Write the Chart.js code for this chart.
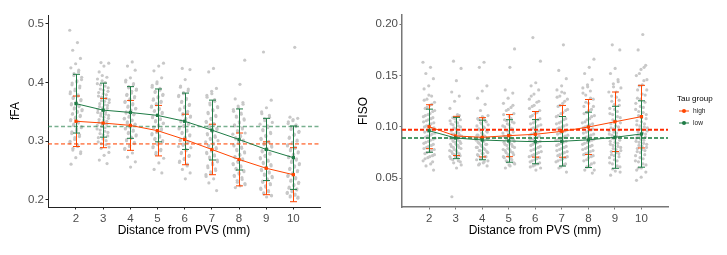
<!DOCTYPE html>
<html>
<head>
<meta charset="utf-8">
<script src="https://cdn.jsdelivr.net/npm/chart.js@4.4.0/dist/chart.umd.min.js"></script>
<style>
  html, body { margin: 0; padding: 0; background: #fff; }
  #wrap { position: relative; width: 727px; height: 255px; overflow: hidden; }
  #fa { position: absolute; left: 0; top: 0; }
  #iso { position: absolute; left: 330px; top: 0; }
</style>
</head>
<body>
<div id="wrap">
  <canvas id="fa" width="330" height="255"></canvas>
  <canvas id="iso" width="397" height="255"></canvas>
</div>
<script>
// ---- data ----
const distances = [2, 3, 4, 5, 6, 7, 8, 9, 10];
const xTickLabels = ['2', '3', '4', '5', '6', '7', '8', '9', '10'];
const faTicks = [0.2, 0.3, 0.4, 0.5];
const faTickLabels = ['0.2', '0.3', '0.4', '0.5'];
const isoTicks = [0.05, 0.10, 0.15, 0.20];
const isoTickLabels = ['0.05', '0.10', '0.15', '0.20'];

// group means and SD per distance
const faHighMean = [0.334, 0.331, 0.327, 0.318, 0.303, 0.286, 0.269, 0.254, 0.243];
const faHighSd   = [0.043, 0.042, 0.0425, 0.043, 0.043, 0.043, 0.045, 0.045, 0.046];
const faLowMean  = [0.364, 0.353, 0.349, 0.344, 0.334, 0.319, 0.303, 0.286, 0.272];
const faLowSd    = [0.050, 0.046, 0.044, 0.045, 0.048, 0.051, 0.052, 0.053, 0.054];
const faHighOverall = 0.2955;
const faLowOverall = 0.325;

const isoHighMean = [0.1002, 0.0912, 0.0899, 0.0915, 0.0928, 0.0957, 0.0999, 0.105, 0.110];
const isoHighSd   = [0.0214, 0.0191, 0.0191, 0.0205, 0.0222, 0.0252, 0.0268, 0.029, 0.0305];
const isoLowMean  = [0.0963, 0.0892, 0.0873, 0.0863, 0.0856, 0.086, 0.0874, 0.0899, 0.0931];
const isoLowSd    = [0.021, 0.0201, 0.0193, 0.0207, 0.0215, 0.0241, 0.027, 0.0302, 0.0323];
const isoHighOverall = 0.0973;
const isoLowOverall = 0.0892;

// individual values, one list per distance (2..10)
const faRaw = [
  [0.489, 0.468, 0.455, 0.441, 0.432, 0.425, 0.418, 0.412, 0.405, 0.401, 0.396, 0.391, 0.386, 0.381, 0.377, 0.373, 0.369, 0.366, 0.362, 0.359, 0.355, 0.352, 0.349, 0.346, 0.342, 0.339, 0.335, 0.331, 0.327, 0.323, 0.318, 0.313, 0.308, 0.303, 0.297, 0.291, 0.285, 0.279, 0.272, 0.261,
   0.421, 0.415, 0.409, 0.403, 0.399, 0.394, 0.389, 0.384, 0.379, 0.375, 0.371, 0.367, 0.364, 0.361, 0.357, 0.354, 0.351, 0.347, 0.344, 0.341, 0.337, 0.333, 0.329, 0.325, 0.321, 0.316, 0.311, 0.306, 0.300, 0.294, 0.288, 0.282],
  [0.434, 0.433, 0.428, 0.418, 0.409, 0.403, 0.398, 0.394, 0.389, 0.385, 0.381, 0.377, 0.373, 0.369, 0.366, 0.362, 0.359, 0.356, 0.352, 0.349, 0.346, 0.343, 0.339, 0.336, 0.332, 0.329, 0.325, 0.321, 0.317, 0.313, 0.309, 0.304, 0.299, 0.294, 0.288, 0.281, 0.276, 0.268, 0.262,
   0.412, 0.406, 0.400, 0.396, 0.391, 0.387, 0.383, 0.379, 0.375, 0.371, 0.368, 0.364, 0.361, 0.357, 0.354, 0.350, 0.347, 0.344, 0.341, 0.337, 0.334, 0.330, 0.327, 0.323, 0.319, 0.315, 0.311, 0.306, 0.301, 0.296, 0.290],
  [0.435, 0.428, 0.421, 0.408, 0.401, 0.396, 0.391, 0.387, 0.382, 0.378, 0.374, 0.370, 0.366, 0.362, 0.358, 0.355, 0.351, 0.348, 0.345, 0.341, 0.338, 0.335, 0.331, 0.328, 0.324, 0.321, 0.317, 0.313, 0.309, 0.305, 0.301, 0.296, 0.291, 0.286, 0.280, 0.273, 0.265, 0.256,
   0.404, 0.398, 0.393, 0.389, 0.385, 0.380, 0.376, 0.372, 0.368, 0.364, 0.360, 0.356, 0.353, 0.350, 0.346, 0.343, 0.339, 0.336, 0.333, 0.329, 0.326, 0.322, 0.319, 0.315, 0.311, 0.307, 0.303, 0.298, 0.293, 0.288],
  [0.433, 0.428, 0.420, 0.408, 0.398, 0.392, 0.387, 0.383, 0.378, 0.374, 0.370, 0.366, 0.362, 0.358, 0.354, 0.351, 0.347, 0.344, 0.340, 0.337, 0.333, 0.330, 0.326, 0.323, 0.319, 0.315, 0.311, 0.307, 0.303, 0.299, 0.294, 0.289, 0.284, 0.278, 0.271, 0.263, 0.252, 0.246,
   0.401, 0.395, 0.390, 0.385, 0.380, 0.376, 0.372, 0.368, 0.364, 0.360, 0.356, 0.352, 0.349, 0.345, 0.342, 0.338, 0.335, 0.331, 0.328, 0.324, 0.321, 0.317, 0.313, 0.309, 0.305, 0.301, 0.296, 0.291, 0.286, 0.281],
  [0.424, 0.422, 0.405, 0.392, 0.386, 0.381, 0.376, 0.371, 0.366, 0.361, 0.357, 0.353, 0.349, 0.345, 0.341, 0.337, 0.333, 0.329, 0.325, 0.321, 0.317, 0.313, 0.309, 0.305, 0.301, 0.297, 0.293, 0.289, 0.284, 0.279, 0.274, 0.269, 0.264, 0.258, 0.252, 0.246, 0.236,
   0.394, 0.389, 0.383, 0.378, 0.373, 0.368, 0.363, 0.359, 0.355, 0.351, 0.347, 0.343, 0.339, 0.335, 0.331, 0.327, 0.323, 0.319, 0.315, 0.311, 0.307, 0.303, 0.299, 0.295, 0.291, 0.286, 0.281, 0.276, 0.271, 0.266, 0.261],
  [0.424, 0.418, 0.390, 0.385, 0.378, 0.371, 0.365, 0.359, 0.354, 0.349, 0.344, 0.339, 0.334, 0.330, 0.326, 0.322, 0.318, 0.313, 0.309, 0.305, 0.301, 0.297, 0.293, 0.289, 0.285, 0.281, 0.277, 0.273, 0.268, 0.263, 0.258, 0.253, 0.248, 0.243, 0.236, 0.229, 0.216,
   0.381, 0.375, 0.368, 0.362, 0.357, 0.352, 0.347, 0.342, 0.337, 0.332, 0.328, 0.324, 0.320, 0.316, 0.311, 0.307, 0.303, 0.299, 0.295, 0.291, 0.287, 0.283, 0.279, 0.275, 0.270, 0.265, 0.260, 0.255, 0.250, 0.245, 0.240],
  [0.438, 0.397, 0.372, 0.366, 0.360, 0.354, 0.348, 0.343, 0.338, 0.333, 0.328, 0.323, 0.318, 0.314, 0.310, 0.306, 0.302, 0.298, 0.294, 0.290, 0.286, 0.282, 0.278, 0.274, 0.270, 0.266, 0.262, 0.258, 0.254, 0.250, 0.246, 0.242, 0.238, 0.233, 0.228, 0.224, 0.221,
   0.363, 0.357, 0.351, 0.346, 0.341, 0.336, 0.331, 0.326, 0.321, 0.316, 0.312, 0.308, 0.304, 0.300, 0.296, 0.292, 0.288, 0.284, 0.280, 0.276, 0.272, 0.268, 0.264, 0.260, 0.256, 0.252, 0.248, 0.244, 0.240, 0.235, 0.230, 0.226],
  [0.452, 0.370, 0.357, 0.350, 0.344, 0.338, 0.332, 0.326, 0.320, 0.315, 0.310, 0.305, 0.300, 0.296, 0.292, 0.288, 0.284, 0.280, 0.276, 0.272, 0.268, 0.264, 0.260, 0.256, 0.252, 0.248, 0.244, 0.240, 0.236, 0.232, 0.228, 0.224, 0.220, 0.216, 0.212, 0.208, 0.205,
   0.347, 0.341, 0.335, 0.329, 0.323, 0.318, 0.313, 0.308, 0.303, 0.298, 0.294, 0.290, 0.286, 0.282, 0.278, 0.274, 0.270, 0.266, 0.262, 0.258, 0.254, 0.250, 0.246, 0.242, 0.238, 0.234, 0.230, 0.226, 0.222, 0.218, 0.214, 0.210, 0.207],
  [0.460, 0.341, 0.339, 0.335, 0.330, 0.325, 0.320, 0.315, 0.310, 0.305, 0.300, 0.296, 0.292, 0.288, 0.284, 0.280, 0.276, 0.272, 0.268, 0.264, 0.260, 0.256, 0.252, 0.248, 0.244, 0.240, 0.236, 0.232, 0.228, 0.224, 0.220, 0.217, 0.214, 0.211, 0.208, 0.205, 0.203,
   0.337, 0.333, 0.328, 0.322, 0.317, 0.312, 0.307, 0.302, 0.298, 0.294, 0.290, 0.286, 0.282, 0.278, 0.274, 0.270, 0.266, 0.262, 0.258, 0.254, 0.250, 0.246, 0.242, 0.238, 0.234, 0.230, 0.226, 0.222, 0.219, 0.216, 0.213, 0.210, 0.207, 0.205]
];
const isoRaw = [
  [0.163, 0.158, 0.152, 0.147, 0.140, 0.137, 0.130, 0.127, 0.124, 0.121, 0.118, 0.115, 0.112, 0.110, 0.108, 0.106, 0.104, 0.102, 0.100, 0.098, 0.096, 0.094, 0.092, 0.090, 0.088, 0.086, 0.084, 0.082, 0.080, 0.078, 0.076, 0.074, 0.072, 0.070, 0.067, 0.064, 0.062, 0.058,
   0.131, 0.126, 0.122, 0.119, 0.116, 0.113, 0.111, 0.109, 0.107, 0.105, 0.103, 0.101, 0.099, 0.097, 0.095, 0.093, 0.091, 0.089, 0.087, 0.085, 0.083, 0.081, 0.079, 0.077, 0.075, 0.073, 0.071, 0.069, 0.066],
  [0.164, 0.157, 0.145, 0.134, 0.130, 0.125, 0.118, 0.112, 0.109, 0.107, 0.105, 0.103, 0.101, 0.099, 0.097, 0.095, 0.093, 0.092, 0.090, 0.089, 0.087, 0.086, 0.084, 0.083, 0.081, 0.080, 0.078, 0.077, 0.075, 0.074, 0.072, 0.071, 0.069, 0.067, 0.065, 0.063, 0.060, 0.032,
   0.111, 0.108, 0.106, 0.104, 0.102, 0.100, 0.098, 0.096, 0.094, 0.093, 0.091, 0.089, 0.088, 0.086, 0.085, 0.083, 0.082, 0.080, 0.079, 0.077, 0.076, 0.074, 0.073, 0.071, 0.070, 0.068, 0.066],
  [0.163, 0.158, 0.140, 0.135, 0.128, 0.122, 0.116, 0.111, 0.109, 0.107, 0.105, 0.103, 0.101, 0.099, 0.097, 0.095, 0.093, 0.092, 0.090, 0.089, 0.087, 0.086, 0.084, 0.083, 0.081, 0.080, 0.078, 0.077, 0.075, 0.074, 0.072, 0.071, 0.069, 0.068, 0.066, 0.064, 0.062,
   0.110, 0.108, 0.106, 0.104, 0.102, 0.100, 0.098, 0.096, 0.094, 0.092, 0.091, 0.089, 0.088, 0.086, 0.085, 0.083, 0.082, 0.080, 0.079, 0.077, 0.076, 0.074, 0.073, 0.071, 0.069, 0.067, 0.065, 0.063],
  [0.176, 0.158, 0.136, 0.133, 0.128, 0.123, 0.119, 0.116, 0.113, 0.110, 0.107, 0.105, 0.103, 0.101, 0.099, 0.097, 0.095, 0.093, 0.091, 0.089, 0.088, 0.086, 0.084, 0.083, 0.081, 0.079, 0.078, 0.076, 0.075, 0.073, 0.071, 0.070, 0.068, 0.066, 0.064, 0.062, 0.060,
   0.121, 0.117, 0.112, 0.108, 0.106, 0.104, 0.102, 0.100, 0.098, 0.096, 0.094, 0.092, 0.090, 0.088, 0.087, 0.085, 0.083, 0.082, 0.080, 0.078, 0.077, 0.075, 0.073, 0.071, 0.069, 0.067, 0.065, 0.063],
  [0.187, 0.164, 0.143, 0.140, 0.136, 0.132, 0.127, 0.124, 0.120, 0.116, 0.113, 0.110, 0.107, 0.104, 0.102, 0.100, 0.098, 0.096, 0.094, 0.092, 0.090, 0.088, 0.086, 0.084, 0.082, 0.080, 0.078, 0.076, 0.074, 0.072, 0.070, 0.068, 0.066, 0.064, 0.062, 0.060, 0.058,
   0.130, 0.125, 0.121, 0.118, 0.114, 0.111, 0.108, 0.105, 0.103, 0.101, 0.099, 0.097, 0.095, 0.093, 0.091, 0.089, 0.087, 0.085, 0.083, 0.081, 0.079, 0.077, 0.075, 0.073, 0.071, 0.069, 0.067, 0.065, 0.063, 0.061],
  [0.180, 0.155, 0.147, 0.140, 0.136, 0.133, 0.130, 0.127, 0.123, 0.120, 0.116, 0.113, 0.110, 0.107, 0.104, 0.102, 0.100, 0.098, 0.096, 0.094, 0.092, 0.090, 0.088, 0.086, 0.084, 0.082, 0.080, 0.078, 0.076, 0.074, 0.072, 0.070, 0.068, 0.066, 0.063, 0.060, 0.056,
   0.134, 0.129, 0.125, 0.121, 0.117, 0.114, 0.111, 0.108, 0.105, 0.103, 0.101, 0.099, 0.097, 0.095, 0.093, 0.091, 0.089, 0.087, 0.085, 0.083, 0.081, 0.079, 0.077, 0.075, 0.073, 0.071, 0.069, 0.067, 0.064, 0.061],
  [0.166, 0.158, 0.152, 0.146, 0.141, 0.138, 0.135, 0.131, 0.127, 0.123, 0.120, 0.117, 0.114, 0.111, 0.108, 0.105, 0.103, 0.101, 0.099, 0.097, 0.095, 0.093, 0.091, 0.089, 0.087, 0.085, 0.083, 0.081, 0.079, 0.077, 0.075, 0.073, 0.071, 0.068, 0.065, 0.062, 0.058, 0.055,
   0.139, 0.133, 0.128, 0.124, 0.120, 0.116, 0.113, 0.110, 0.107, 0.104, 0.102, 0.100, 0.098, 0.096, 0.094, 0.092, 0.090, 0.088, 0.086, 0.084, 0.082, 0.080, 0.078, 0.076, 0.074, 0.072, 0.070, 0.067, 0.064, 0.061, 0.058],
  [0.180, 0.175, 0.157, 0.152, 0.146, 0.142, 0.138, 0.134, 0.130, 0.126, 0.122, 0.118, 0.115, 0.112, 0.109, 0.106, 0.103, 0.100, 0.098, 0.096, 0.094, 0.092, 0.090, 0.088, 0.086, 0.084, 0.082, 0.080, 0.078, 0.076, 0.074, 0.072, 0.070, 0.067, 0.064, 0.061, 0.057, 0.053,
   0.144, 0.139, 0.134, 0.129, 0.125, 0.121, 0.117, 0.113, 0.110, 0.107, 0.104, 0.101, 0.099, 0.097, 0.095, 0.093, 0.091, 0.089, 0.087, 0.085, 0.083, 0.081, 0.079, 0.077, 0.075, 0.073, 0.071, 0.068, 0.065, 0.062, 0.059, 0.056],
  [0.190, 0.175, 0.160, 0.156, 0.150, 0.145, 0.140, 0.136, 0.132, 0.128, 0.124, 0.120, 0.117, 0.114, 0.111, 0.108, 0.105, 0.102, 0.100, 0.098, 0.096, 0.094, 0.092, 0.090, 0.088, 0.086, 0.084, 0.082, 0.080, 0.078, 0.076, 0.073, 0.070, 0.067, 0.064, 0.060, 0.056, 0.051, 0.048,
   0.158, 0.152, 0.146, 0.141, 0.136, 0.131, 0.127, 0.123, 0.119, 0.115, 0.112, 0.109, 0.106, 0.103, 0.101, 0.099, 0.097, 0.095, 0.093, 0.091, 0.089, 0.087, 0.085, 0.083, 0.081, 0.079, 0.077, 0.075, 0.072, 0.069, 0.066, 0.063, 0.060, 0.058]
];

// ---- styles ----
const HIGH = '#ff4500';
const LOW = '#1e7b45';
const FONT = '"Liberation Sans", Arial, sans-serif';

// spread points sideways inside each distance column (like geom_jitter width)
function spread(i) {
  return ((i * 0.618034) % 1 - 0.5) * 0.46;
}

function rawPoints(raw) {
  const pts = [];
  raw.forEach((vals, c) => {
    vals.forEach((v, i) => pts.push({ x: distances[c] + spread(i + c * 7), y: v }));
  });
  return pts;
}

function meanPoints(means) {
  return distances.map((d, i) => ({ x: d, y: means[i] }));
}

// error bars + overall dashed lines, drawn right after the grey points
const errorBars = {
  id: 'errorBars',
  afterDatasetDraw(chart, args, opts) {
    if (args.index !== chart.data.datasets.length - 1) return;
    const { ctx, chartArea, scales: { x, y } } = chart;
    ctx.save();
    ctx.lineWidth = 1;
    opts.groups.forEach(g => {
      ctx.strokeStyle = g.color;
      g.mean.forEach((m, i) => {
        const px = Math.round(x.getPixelForValue(distances[i])) + 0.5;
        const top = y.getPixelForValue(m + g.sd[i]);
        const bot = y.getPixelForValue(m - g.sd[i]);
        ctx.beginPath();
        ctx.moveTo(px, top); ctx.lineTo(px, bot);
        ctx.moveTo(px - 3.5, top); ctx.lineTo(px + 3.5, top);
        ctx.moveTo(px - 3.5, bot); ctx.lineTo(px + 3.5, bot);
        ctx.stroke();
      });
    });
    opts.refs.forEach(r => {
      const py = y.getPixelForValue(r.value);
      ctx.strokeStyle = r.color;
      ctx.lineWidth = r.width;
      ctx.setLineDash(r.dash);
      ctx.beginPath();
      ctx.moveTo(chartArea.left, py);
      ctx.lineTo(chartArea.right, py);
      ctx.stroke();
    });
    ctx.restore();
  }
};

// ggplot-like legend at the right of the FISO panel
const tauLegend = {
  id: 'tauLegend',
  afterDraw(chart, args, opts) {
    if (!opts.show) return;
    const ctx = chart.ctx;
    ctx.save();
    ctx.fillStyle = '#000';
    ctx.textBaseline = 'middle';
    ctx.font = '8px ' + FONT;
    ctx.fillText('Tau group', 347, 99);
    ctx.font = '6.6px ' + FONT;
    [['high', HIGH, 111], ['low', LOW, 123]].forEach(([lab, col, yy]) => {
      ctx.strokeStyle = col;
      ctx.fillStyle = col;
      ctx.lineWidth = 1;
      ctx.beginPath(); ctx.moveTo(349, yy); ctx.lineTo(359, yy); ctx.stroke();
      ctx.beginPath(); ctx.arc(354, yy, 2, 0, Math.PI * 2); ctx.fill();
      ctx.fillStyle = '#222';
      ctx.fillText(lab, 363, yy);
    });
    ctx.restore();
  }
};

function axisGrid(col) {
  return {
    display: true, drawOnChartArea: false, drawTicks: true,
    tickLength: 2.5, tickColor: col, tickWidth: 1
  };
}

function makePanel(id, o) {
  return new Chart(document.getElementById(id), {
    type: 'scatter',
    data: {
      datasets: [
        {
          type: 'line', label: 'low', data: meanPoints(o.lowMean),
          borderColor: LOW, backgroundColor: LOW, borderWidth: 1,
          pointStyle: 'rect', pointRadius: 2.3, pointBorderWidth: 0, tension: 0
        },
        {
          type: 'line', label: 'high', data: meanPoints(o.highMean),
          borderColor: HIGH, backgroundColor: HIGH, borderWidth: 1,
          pointStyle: 'rect', pointRadius: 2.3, pointBorderWidth: 0, tension: 0
        },
        {
          label: 'raw', data: rawPoints(o.raw),
          backgroundColor: '#c8c8c8', borderWidth: 0, pointRadius: 1.6
        }
      ]
    },
    options: {
      responsive: false,
      animation: false,
      events: [],
      layout: { padding: o.padding },
      plugins: {
        legend: { display: false },
        tooltip: { enabled: false },
        errorBars: {
          groups: [
            { mean: o.highMean, sd: o.highSd, color: HIGH },
            { mean: o.lowMean, sd: o.lowSd, color: LOW }
          ],
          refs: o.refs
        },
        tauLegend: { show: o.legend }
      },
      scales: {
        x: {
          type: 'linear', min: o.xMin, max: o.xMax,
          afterBuildTicks: ax => { ax.ticks = distances.map(v => ({ value: v })); },
          afterFit: s => { s.height = 48; },
          ticks: {
            callback: (v, i) => xTickLabels[i],
            color: '#4d4d4d', padding: 2, maxRotation: 0,
            font: { family: FONT, size: 11.5 }
          },
          grid: axisGrid(o.axisColor),
          border: { display: true, color: o.axisColor, width: o.axisWidth },
          title: {
            display: true, text: 'Distance from PVS (mm)', color: '#000',
            font: { family: FONT, size: 12 }, padding: { top: 17, bottom: 17 }
          }
        },
        y: {
          min: o.yMin, max: o.yMax,
          afterBuildTicks: ax => { ax.ticks = o.yTicks.map(v => ({ value: v })); },
          afterFit: s => { s.width = o.yWidth; },
          ticks: {
            callback: (v, i) => o.yLabels[i],
            color: '#4d4d4d', padding: 1.5,
            font: { family: FONT, size: 11.5 }
          },
          grid: axisGrid(o.axisColor),
          border: { display: true, color: o.axisColor, width: o.axisWidth },
          title: {
            display: true, text: o.yTitle, color: '#000',
            font: { family: FONT, size: 12 }, padding: { top: o.yTitlePad, bottom: o.yTitlePad }
          }
        }
      }
    },
    plugins: [errorBars, tauLegend]
  });
}

makePanel('fa', {
  raw: faRaw, highMean: faHighMean, highSd: faHighSd, lowMean: faLowMean, lowSd: faLowSd,
  refs: [
    { value: faLowOverall, color: 'rgba(30,123,69,0.6)', width: 1.6, dash: [4, 2.5] },
    { value: faHighOverall, color: 'rgba(255,69,0,0.6)', width: 1.6, dash: [4, 2.5] }
  ],
  xMin: 0.97, xMax: 10.98, yMin: 0.188, yMax: 0.515,
  yTicks: faTicks, yLabels: faTickLabels, yTitle: 'fFA', yWidth: 48, yTitlePad: 8,
  axisColor: '#222', axisWidth: 1,
  padding: { top: 15, right: 10, left: 0, bottom: 0 }, legend: false
});

makePanel('iso', {
  raw: isoRaw, highMean: isoHighMean, highSd: isoHighSd, lowMean: isoLowMean, lowSd: isoLowSd,
  refs: [
    { value: isoHighOverall, color: '#ff2a00', width: 2, dash: [4, 2] },
    { value: isoLowOverall, color: '#137a3a', width: 1.3, dash: [4, 2] }
  ],
  xMin: 0.98, xMax: 11.0, yMin: 0.022, yMax: 0.209,
  yTicks: isoTicks, yLabels: isoTickLabels, yTitle: 'FISO', yWidth: 72, yTitlePad: 26,
  axisColor: '#777', axisWidth: 1.5,
  padding: { top: 15, right: 59, left: 0, bottom: 0 }, legend: true
});
</script>
</body>
</html>
